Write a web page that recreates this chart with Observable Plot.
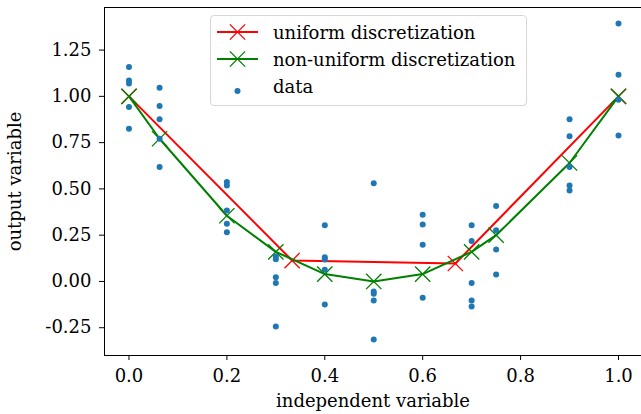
<!DOCTYPE html>
<html><head><meta charset="utf-8">
<script src="https://cdn.jsdelivr.net/npm/d3@7"></script>
<script src="https://cdn.jsdelivr.net/npm/@observablehq/plot@0.6"></script>
<style>
body{margin:0;background:#fff;}
#wrap{position:relative;width:641px;height:414px;overflow:hidden;}
.legend{position:absolute;left:210px;top:15px;width:317px;height:91px;box-sizing:border-box;border:1px solid #d6d6d6;border-radius:4px;background:rgba(255,255,255,0.85);font-family:"DejaVu Serif";font-size:18px;color:#000;}
.legend .row{position:absolute;left:0;height:24px;display:flex;align-items:center;}
.legend .row span{position:absolute;left:62px;white-space:nowrap;}
</style></head><body><div id="wrap"></div>
<script>
// data points
const dataX = [
  0,0,0,0,0,
  0.0625,0.0625,0.0625,0.0625,0.0625,
  0.2,0.2,0.2,0.2,0.2,
  0.3,0.3,0.3,0.3,0.3,
  0.4,0.4,0.4,0.4,0.4,
  0.5,0.5,0.5,0.5,0.5,
  0.6,0.6,0.6,0.6,
  0.7,0.7,0.7,0.7,0.7,
  0.75,0.75,0.75,0.75,
  0.9,0.9,0.9,0.9,0.9,
  1,1,1,1
];
const dataY = [
  1.158,1.086,1.069,0.942,0.825,
  1.047,0.948,0.876,0.771,0.618,
  0.537,0.519,0.384,0.312,0.266,
  0.135,0.120,0.023,-0.009,-0.243,
  0.303,0.131,0.119,0.063,-0.124,
  0.531,-0.054,-0.067,-0.103,-0.314,
  0.360,0.308,0.198,-0.088,
  0.303,0.218,-0.009,-0.103,-0.135,
  0.407,0.276,0.173,0.038,
  0.876,0.784,0.618,0.519,0.492,
  1.393,1.117,0.982,0.789
];
// uniform discretization
const uniX = [0, 0.3333, 0.6667, 1];
const uniY = [1.0, 0.113, 0.097, 1.0];
// non-uniform discretization
const nonX = [0, 0.0625, 0.2, 0.3, 0.4, 0.5, 0.6, 0.7, 0.75, 0.9, 1];
const nonY = [1.0, 0.771, 0.355, 0.16, 0.04, 0.0, 0.04, 0.16, 0.25, 0.64, 1.0];
// ticks
const xTicks = [0, 0.2, 0.4, 0.6, 0.8, 1.0];
const yTicks = [-0.25, 0, 0.25, 0.5, 0.75, 1.0, 1.25];
const legendLabels = ["uniform discretization", "non-uniform discretization", "data"];

const points = dataX.map((x, i) => ({x, y: dataY[i]}));
const uni = uniX.map((x, i) => ({x, y: uniY[i]}));
const non = nonX.map((x, i) => ({x, y: nonY[i]}));

const RED = "#ff0000", GREEN = "#008000", BLUE = "#1f77b4";
const FONT = "DejaVu Serif";

const plot = Plot.plot({
  width: 641, height: 414,
  marginLeft: 104, marginRight: 0, marginTop: 7, marginBottom: 59,
  x: {domain: [-0.05, 1.047]},
  y: {domain: [-0.4, 1.48]},
  style: {fontFamily: FONT, fontSize: "18px", color: "#000", background: "#fff"},
  marks: [
    Plot.frame({anchor: "left", stroke: "#000"}),
    Plot.frame({anchor: "top", stroke: "#000"}),
    Plot.frame({anchor: "bottom", stroke: "#000"}),
    Plot.axisX({ticks: xTicks, tickFormat: d3.format(".1f"), tickSize: 5, tickPadding: 9, fontSize: 18,
      label: "independent variable", labelAnchor: "center", labelArrow: "none", labelOffset: 51}),
    Plot.axisY({ticks: yTicks, tickFormat: d => d.toFixed(2), tickSize: 5, tickPadding: 8, fontSize: 18,
      label: "output variable", labelAnchor: "center", labelArrow: "none", labelOffset: 96}),
    Plot.line(uni, {x: "x", y: "y", stroke: RED, strokeWidth: 2}),
    Plot.dot(uni, {x: "x", y: "y", symbol: "times", r: 7, stroke: RED, strokeWidth: 1.3}),
    Plot.line(non, {x: "x", y: "y", stroke: GREEN, strokeWidth: 2}),
    Plot.dot(non, {x: "x", y: "y", symbol: "times", r: 7, stroke: GREEN, strokeWidth: 1.3}),
    Plot.dot(points, {x: "x", y: "y", r: 3, fill: BLUE, stroke: "none"})
  ]
});
const wrap = document.getElementById("wrap");
wrap.appendChild(plot);

// legend overlay
const lg = document.createElement("div");
lg.className = "legend";
const rows = [
  {label: legendLabels[0], color: RED, type: "line", cy: 16},
  {label: legendLabels[1], color: GREEN, type: "line", cy: 43},
  {label: legendLabels[2], color: BLUE, type: "dot", cy: 70}
];
rows.forEach(r => {
  const row = document.createElement("div");
  row.className = "row";
  row.style.top = (r.cy - 12) + "px";
  row.style.width = "100%";
  const svg = d3.create("svg").attr("width", 55).attr("height", 24).style("position", "absolute").style("left", "0px");
  if (r.type === "line") {
    svg.append("line").attr("x1", 6).attr("x2", 47).attr("y1", 12).attr("y2", 12).attr("stroke", r.color).attr("stroke-width", 2);
    svg.append("path").attr("d", d3.symbol(d3.symbolTimes, Math.PI * 49)()).attr("transform", "translate(26.5,12)").attr("stroke", r.color).attr("stroke-width", 1.3).attr("fill", "none");
  } else {
    svg.append("circle").attr("cx", 26.5).attr("cy", 17).attr("r", 3).attr("fill", r.color);
  }
  row.appendChild(svg.node());
  const sp = document.createElement("span");
  sp.textContent = r.label;
  row.appendChild(sp);
  lg.appendChild(row);
});
wrap.appendChild(lg);
</script>
</body></html>
